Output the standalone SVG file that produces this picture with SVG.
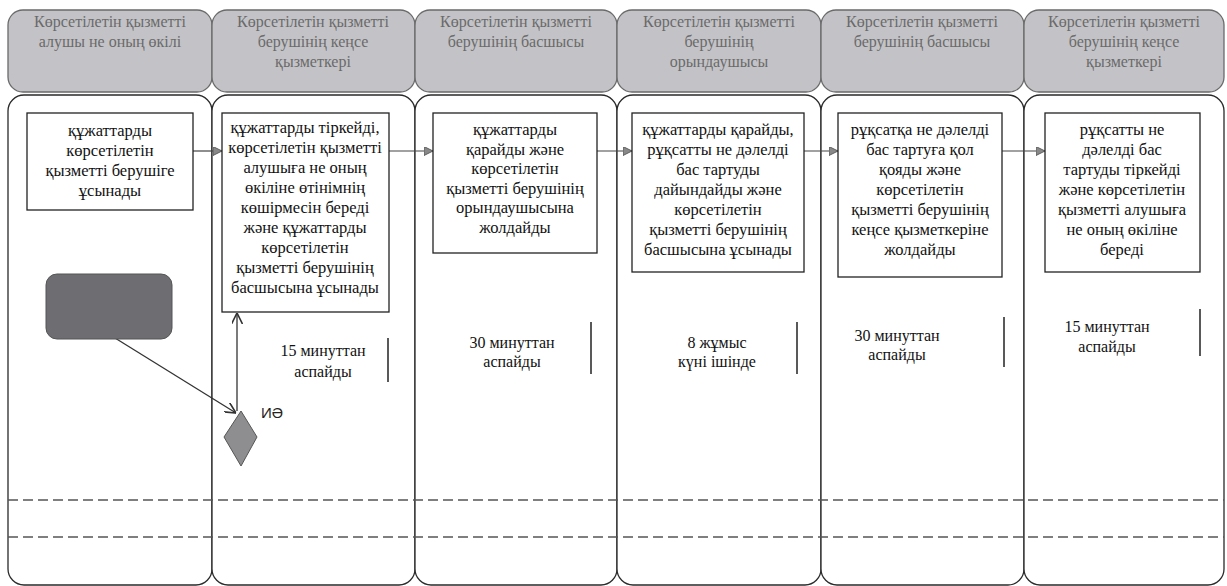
<svg xmlns="http://www.w3.org/2000/svg" width="1227" height="586" viewBox="0 0 1227 586">
<style>
.hdr{fill:#c3c3c7;stroke:#6a6a6a;stroke-width:1.3}
.lane{fill:#ffffff;stroke:#2a2a2a;stroke-width:1.3}
.ht{font-family:'Liberation Serif','Times New Roman','DejaVu Serif',serif;font-size:16px;fill:#6a6a6a;text-anchor:middle}
.box{fill:#ffffff;stroke:#222;stroke-width:1.3}
.bt{font-family:'Liberation Serif','Times New Roman','DejaVu Serif',serif;font-size:16.5px;fill:#111;text-anchor:middle}
.tt{font-family:'Liberation Serif','Times New Roman','DejaVu Serif',serif;font-size:16px;fill:#111;text-anchor:middle}
.bar{stroke:#222;stroke-width:1.5}
.flow{stroke:#444;stroke-width:1.2;fill:none;marker-end:url(#tri)}
.link{stroke:#333;stroke-width:1.3;fill:none;marker-end:url(#vee)}
.dash{stroke:#555;stroke-width:1.5;stroke-dasharray:10 5;fill:none}
</style>
<defs>
<marker id="tri" viewBox="0 0 10 10" refX="10" refY="5" markerWidth="9" markerHeight="9" markerUnits="userSpaceOnUse" orient="auto">
<path d="M0,0 L10,5 L0,10 z" fill="#888" stroke="#555" stroke-width="1"/>
</marker>
<marker id="vee" viewBox="0 0 10 10" refX="10" refY="5" markerWidth="11" markerHeight="11" markerUnits="userSpaceOnUse" orient="auto">
<path d="M0,0 L10,5 L0,10" fill="none" stroke="#333" stroke-width="1.5"/>
</marker>
</defs>
<rect width="1227" height="586" fill="#ffffff"/>
<g id="lanes">
<rect class="lane" x="8" y="95" width="204" height="490" rx="16"/>
<rect class="lane" x="212" y="95" width="203" height="490" rx="16"/>
<rect class="lane" x="415" y="95" width="202" height="490" rx="16"/>
<rect class="lane" x="617" y="95" width="204" height="490" rx="16"/>
<rect class="lane" x="821" y="95" width="203" height="490" rx="16"/>
<rect class="lane" x="1024" y="95" width="200" height="490" rx="16"/>
</g>
<g id="headers">
<g id="h1"><rect class="hdr" x="8" y="10" width="204" height="82" rx="15"/>
<text class="ht" x="110" y="27">Көрсетілетін қызметті</text><text class="ht" x="110" y="47">алушы не оның өкілі</text></g>
<g id="h2"><rect class="hdr" x="212" y="10" width="203" height="82" rx="15"/>
<text class="ht" x="313" y="27">Көрсетілетін қызметті</text><text class="ht" x="313" y="47">берушінің кеңсе</text><text class="ht" x="313" y="67">қызметкері</text></g>
<g id="h3"><rect class="hdr" x="415" y="10" width="202" height="82" rx="15"/>
<text class="ht" x="516" y="27">Көрсетілетін қызметті</text><text class="ht" x="516" y="47">берушінің басшысы</text></g>
<g id="h4"><rect class="hdr" x="617" y="10" width="204" height="82" rx="15"/>
<text class="ht" x="719" y="27">Көрсетілетін қызметті</text><text class="ht" x="719" y="47">берушінің</text><text class="ht" x="719" y="67">орындаушысы</text></g>
<g id="h5"><rect class="hdr" x="821" y="10" width="203" height="82" rx="15"/>
<text class="ht" x="922" y="27">Көрсетілетін қызметті</text><text class="ht" x="922" y="47">берушінің басшысы</text></g>
<g id="h6"><rect class="hdr" x="1024" y="10" width="200" height="82" rx="15"/>
<text class="ht" x="1124" y="27">Көрсетілетін қызметті</text><text class="ht" x="1124" y="47">берушінің кеңсе</text><text class="ht" x="1124" y="67">қызметкері</text></g>
</g>
<g id="dashes">
<line class="dash" x1="8" y1="500" x2="1224" y2="500"/>
<line class="dash" x1="8" y1="537" x2="1224" y2="537"/>
</g>
<g id="connectors">
<line class="flow" x1="193" y1="151" x2="222" y2="151"/>
<line class="flow" x1="389" y1="151" x2="433" y2="151"/>
<line class="flow" x1="597" y1="151" x2="632" y2="151"/>
<line class="flow" x1="804" y1="151" x2="838" y2="151"/>
<line class="flow" x1="1002" y1="151" x2="1045" y2="151"/>
<line class="link" x1="115" y1="338" x2="236" y2="413"/>
<line class="link" x1="237" y1="411" x2="237" y2="313"/>
</g>
<g id="n1"><rect class="box" x="27" y="113" width="166" height="97"/>
<text class="bt" x="110" y="136">құжаттарды</text><text class="bt" x="110" y="156">көрсетілетін</text><text class="bt" x="110" y="176">қызметті берушіге</text><text class="bt" x="110" y="196">ұсынады</text></g>
<g id="n2"><rect class="box" x="222" y="113" width="167" height="199"/>
<text class="bt" x="305" y="133">құжаттарды тіркейді,</text><text class="bt" x="305" y="153">көрсетілетін қызметті</text><text class="bt" x="305" y="173">алушыға не оның</text><text class="bt" x="305" y="193">өкіліне өтінімнің</text><text class="bt" x="305" y="213">көшірмесін береді</text><text class="bt" x="305" y="233">және құжаттарды</text><text class="bt" x="305" y="253">көрсетілетін</text><text class="bt" x="305" y="273">қызметті берушінің</text><text class="bt" x="305" y="293">басшысына  ұсынады</text></g>
<g id="n3"><rect class="box" x="433" y="113" width="164" height="140"/>
<text class="bt" x="515" y="135">құжаттарды</text><text class="bt" x="515" y="154.5">қарайды және</text><text class="bt" x="515" y="174">көрсетілетін</text><text class="bt" x="515" y="193.5">қызметті  берушінің</text><text class="bt" x="515" y="213">орындаушысына</text><text class="bt" x="515" y="232.5">жолдайды</text></g>
<g id="n4"><rect class="box" x="632" y="113" width="172" height="159"/>
<text class="bt" x="718" y="135">құжаттарды қарайды,</text><text class="bt" x="718" y="155">рұқсатты не дәлелді</text><text class="bt" x="718" y="175">бас тартуды</text><text class="bt" x="718" y="195">дайындайды және</text><text class="bt" x="718" y="215">көрсетілетін</text><text class="bt" x="718" y="235">қызметті берушінің</text><text class="bt" x="718" y="255">басшысына ұсынады</text></g>
<g id="n5"><rect class="box" x="838" y="113" width="164" height="164"/>
<text class="bt" x="920" y="135">рұқсатқа не дәлелді</text><text class="bt" x="920" y="155">бас тартуға қол</text><text class="bt" x="920" y="175">қояды және</text><text class="bt" x="920" y="195">көрсетілетін</text><text class="bt" x="920" y="215">қызметті  берушінің</text><text class="bt" x="920" y="235">кеңсе қызметкеріне</text><text class="bt" x="920" y="255">жолдайды</text></g>
<g id="n6"><rect class="box" x="1045" y="113" width="155" height="159"/>
<text class="bt" x="1122" y="135">рұқсатты не</text><text class="bt" x="1122" y="155">дәлелді бас</text><text class="bt" x="1122" y="175">тартуды тіркейді</text><text class="bt" x="1122" y="195">және көрсетілетін</text><text class="bt" x="1122" y="215">қызметті алушыға</text><text class="bt" x="1122" y="235">не оның өкіліне</text><text class="bt" x="1122" y="255">береді</text></g>
<g id="start"><rect x="46" y="274" width="126" height="65" rx="11" fill="#6e6e72" stroke="#555" stroke-width="1"/></g>
<g id="decision"><polygon points="241,411 257,437 241,466 224,437" fill="#8e8e90" stroke="#555" stroke-width="1"/>
<text x="261" y="418" font-family="'Liberation Sans',Arial,sans-serif" font-size="15" fill="#222">ИӘ</text></g>
<g id="times">
<g id="t2"><text class="tt" x="323" y="356">15 минуттан</text><text class="tt" x="323" y="377">аспайды</text><line class="bar" x1="388" y1="338" x2="388" y2="382"/></g>
<g id="t3"><text class="tt" x="512" y="348">30 минуттан</text><text class="tt" x="512" y="367">аспайды</text><line class="bar" x1="591" y1="322" x2="591" y2="374"/></g>
<g id="t4"><text class="tt" x="717" y="348">8 жұмыс</text><text class="tt" x="717" y="367">күні ішінде</text><line class="bar" x1="797" y1="322" x2="797" y2="374"/></g>
<g id="t5"><text class="tt" x="897" y="341">30 минуттан</text><text class="tt" x="897" y="360">аспайды</text><line class="bar" x1="1004" y1="317" x2="1004" y2="367"/></g>
<g id="t6"><text class="tt" x="1107" y="332">15 минуттан</text><text class="tt" x="1107" y="352">аспайды</text><line class="bar" x1="1200" y1="309" x2="1200" y2="356"/></g>
</g>
</svg>
